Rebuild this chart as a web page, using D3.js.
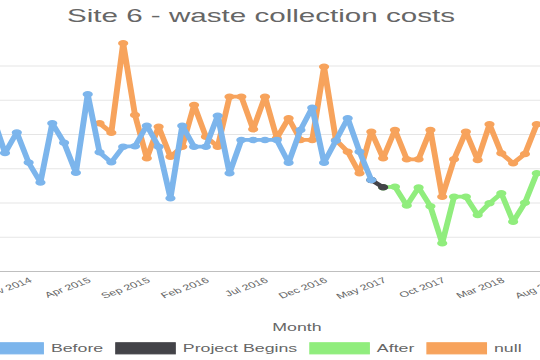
<!DOCTYPE html>
<html><head><meta charset="utf-8">
<script src="https://cdn.jsdelivr.net/npm/d3@7"></script>
<style>html,body{margin:0;padding:0;background:#fff;overflow:hidden}svg{display:block}</style>
</head><body><svg id="c" width="540" height="360"></svg>
<script>
const months = ["Jun 2014","Jul 2014","Aug 2014","Sep 2014","Oct 2014","Nov 2014","Dec 2014",
"Jan 2015","Feb 2015","Mar 2015","Apr 2015","May 2015","Jun 2015","Jul 2015","Aug 2015","Sep 2015","Oct 2015","Nov 2015","Dec 2015",
"Jan 2016","Feb 2016","Mar 2016","Apr 2016","May 2016","Jun 2016","Jul 2016","Aug 2016","Sep 2016","Oct 2016","Nov 2016","Dec 2016",
"Jan 2017","Feb 2017","Mar 2017","Apr 2017","May 2017","Jun 2017","Jul 2017","Aug 2017","Sep 2017","Oct 2017","Nov 2017","Dec 2017",
"Jan 2018","Feb 2018","Mar 2018","Apr 2018","May 2018","Jun 2018","Jul 2018","Aug 2018"];
const N = null;
const before = [N,N,2240,1730,2030,1590,1300,
2164,1880,1442,2587,1740,1594,1822,1829,2129,1822,1069,2129,
1822,1822,2275,1434,1920,1920,1920,1920,1588,2066,2391,1588,
1910,2237,1749,1336,N,N,N,N,N,N,N,N,
N,N,N,N,N,N,N,N];
const projectBegins = [N,N,N,N,N,N,N,
N,N,N,N,N,N,N,N,N,N,N,N,
N,N,N,N,N,N,N,N,N,N,N,N,
N,N,N,1336,1229,N,N,N,N,N,N,N,
N,N,N,N,N,N,N,N];
const after = [N,N,N,N,N,N,N,
N,N,N,N,N,N,N,N,N,N,N,N,
N,N,N,N,N,N,N,N,N,N,N,N,
N,N,N,N,1229,1238,964,1226,952,412,1092,1092,
825,996,1142,727,1004,1434,N,N];
const nullSeries = [N,N,N,N,N,N,N,
N,N,N,N,2164,2026,3332,2285,1653,2114,1676,1822,
2431,1968,1822,2552,2552,2076,2552,1945,2237,1920,1920,2990,
1920,1749,1434,2041,1653,2066,1638,1638,2066,1092,1638,2041,
1628,2149,1726,1580,1716,2149,N,N];
const seriesNames = ["Before","Project Begins","After","null"];
const seriesColors = ["#7cb5ec","#434348","#90ed7d","#f7a35c"];
const yTicks = [500,1000,1500,2000,2500,3000];
const title = "Site 6 - waste collection costs";
const xTitle = "Month";

// stretched canvas
const SX = 1.48, SY = 0.935;
const svg = d3.select("#c");
const g = svg.append("g").attr("transform", `scale(${SX},${SY})`);
const FONT = "'Liberation Sans', Arial, Helvetica, sans-serif";

const x = d3.scalePoint().domain(months).range([-30.45/SX, 560.4/SX]);
const y = d3.scaleLinear().domain([0,3500]).range([271.5/SY, 31.75/SY]);
const left = -60/SX, right = 654/SX;

// grid
g.append("g").selectAll("line").data(yTicks).join("line")
 .attr("x1", left).attr("x2", right)
 .attr("y1", d=>y(d)).attr("y2", d=>y(d))
 .attr("stroke", "rgba(0,0,0,0.1)").attr("stroke-width", 1);
g.append("line").attr("x1", left).attr("x2", right).attr("y1", y(0)).attr("y2", y(0))
 .attr("stroke", "rgba(0,0,0,0.25)").attr("stroke-width", 1);

// x tick labels (every 5th)
const xAxis = d3.axisBottom(x).tickValues(months.filter((d,i)=>i%5===0)).tickSize(0).tickPadding(0);
const ax = g.append("g").attr("transform", `translate(0,${y(0)})`).call(xAxis);
ax.select(".domain").remove();
ax.selectAll("text")
 .attr("font-family", FONT).attr("font-size", 8.5).attr("fill", "#666")
 .attr("text-anchor", "end").attr("dy", null).attr("y", null)
 .attr("dominant-baseline", "middle")
 .attr("transform", "translate(1.2,9.1) rotate(-30)");

// series
const series = [before, projectBegins, after, nullSeries];
const line = d3.line().defined(d=>d.v!==null).x(d=>x(d.m)).y(d=>y(d.v));
for (let s = series.length-1; s >= 0; s--) {
  const pts = months.map((m,i)=>({m, v: series[s][i]}));
  const sg = g.append("g");
  sg.append("path").datum(pts).attr("d", line).attr("fill","none")
    .attr("stroke", seriesColors[s]).attr("stroke-width", 4).attr("stroke-linejoin","round");
  sg.selectAll("circle").data(pts.filter(d=>d.v!==null)).join("circle")
    .attr("cx", d=>x(d.m)).attr("cy", d=>y(d.v)).attr("r", 2.7)
    .attr("fill", seriesColors[s]).attr("stroke", seriesColors[s]).attr("stroke-width", 1.5);
}

// title
g.append("text").attr("x", 261/SX).attr("y", 21.7/SY).attr("text-anchor","middle")
 .attr("font-family", FONT).attr("font-size", 20).attr("fill", "#666").text(title);
// x title
g.append("text").attr("x", 297/SX).attr("y", 331.5/SY).attr("text-anchor","middle")
 .attr("font-family", FONT).attr("font-size", 12).attr("fill", "#666").text(xTitle);

// legend
let lx = -16/SX;
const boxY = 342.7/SY;
seriesNames.forEach((name,i)=>{
  g.append("rect").attr("x", lx).attr("y", boxY).attr("width", 40).attr("height", 12)
   .attr("fill", seriesColors[i]).attr("stroke", seriesColors[i]).attr("stroke-width", 1);
  const t = g.append("text").attr("x", lx+45.2).attr("y", boxY+10.3)
   .attr("font-family", FONT).attr("font-size", 12).attr("fill", "#666").text(name);
  lx = lx + 45.2 + t.node().getComputedTextLength() + 8.6;
});
</script></body></html>
